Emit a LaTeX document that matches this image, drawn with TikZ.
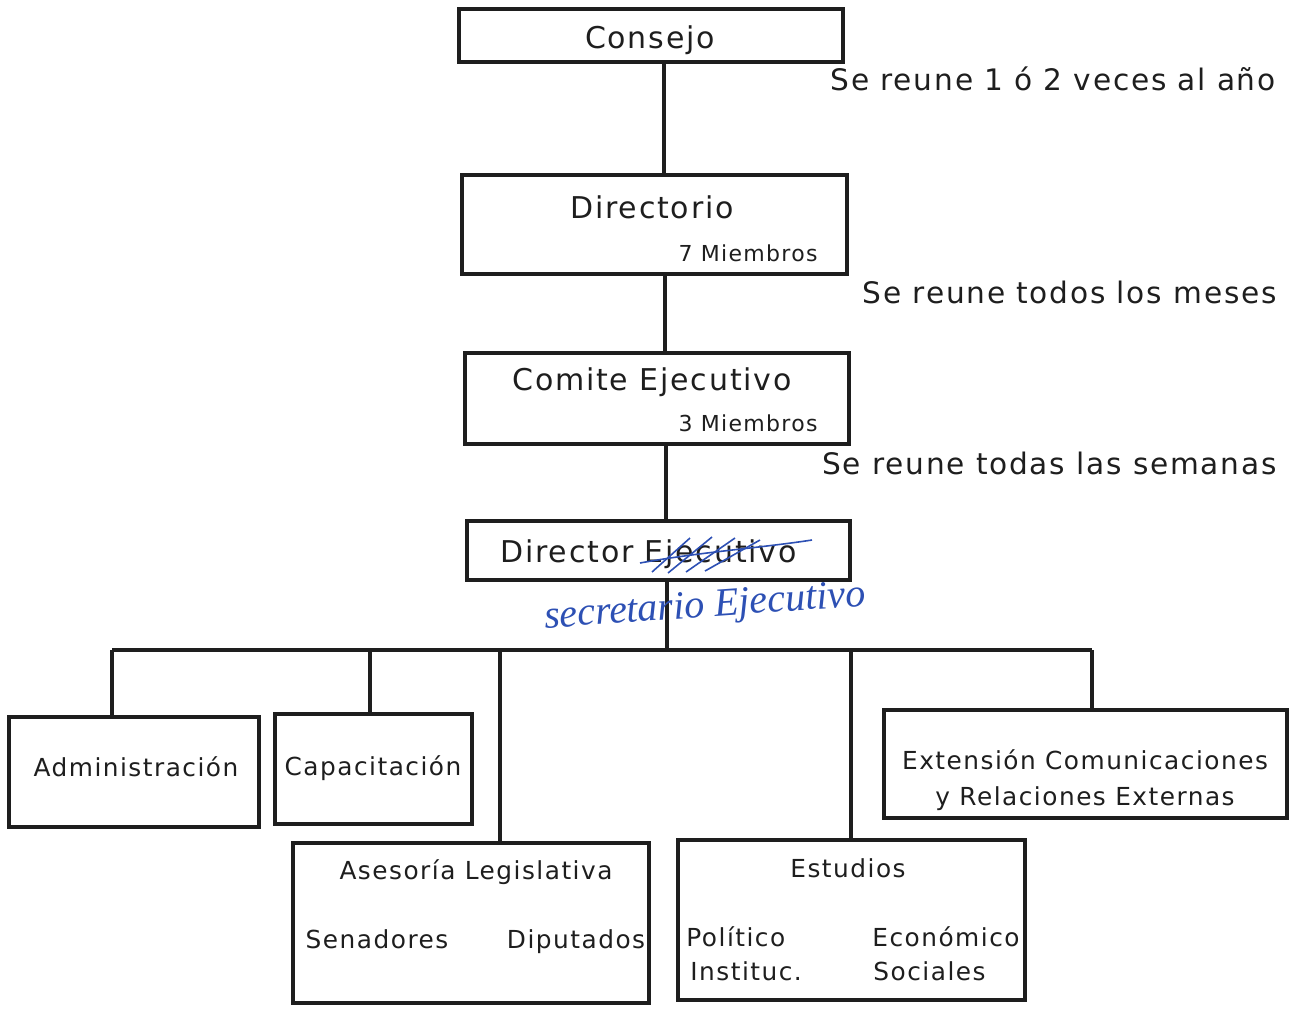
\documentclass[tikz,border=0pt]{standalone}
\usepackage{fontspec}
\setmainfont[LetterSpace=6]{DejaVu Sans}
\newfontfamily\handfont{Liberation Serif}
\definecolor{penblue}{RGB}{45,80,180}
\definecolor{ink}{RGB}{30,30,30}
\begin{document}
\begin{tikzpicture}[x=0.5pt,y=-0.5pt,
  box/.style={draw=ink, line width=1.7pt, inner sep=0pt, outer sep=0pt},
  link/.style={draw=ink, line width=1.7pt},
  title/.style={font=\fontsize{15}{16}\selectfont, text=ink, inner sep=0pt, anchor=base},
  sub/.style={font=\fontsize{11}{13}\selectfont, text=ink, inner sep=0pt, anchor=base east},
  unit/.style={font=\fontsize{12.4}{18}\selectfont, text=ink, inner sep=0pt, anchor=base, align=center},
  note/.style={font=\fontsize{14.8}{16}\selectfont, text=ink, inner sep=0pt, anchor=base east},
  hand/.style={font=\handfont\itshape\fontsize{20}{22}\selectfont, text=penblue, inner sep=0pt},
  strike/.style={draw=penblue, line width=0.8pt}]
\useasboundingbox (0,0) rectangle (1289,1013);

% boxes
\node[box, minimum width=192pt,   minimum height=26.5pt] (consejo)    at (651,35.5)   {};
\node[box, minimum width=192.5pt, minimum height=49.5pt] (directorio) at (654.5,224.5) {};
\node[box, minimum width=192pt,   minimum height=45.5pt] (comite)     at (657,398.5)  {};
\node[box, minimum width=191.5pt, minimum height=29.5pt] (director)   at (658.5,550.5) {};
\node[box, minimum width=125pt,   minimum height=55pt]   (admin)      at (134,772)    {};
\node[box, minimum width=98.5pt,  minimum height=55pt]   (capac)      at (373.5,769)  {};
\node[box, minimum width=201.5pt, minimum height=54pt]   (ext)        at (1085.5,764) {};
\node[box, minimum width=178pt,   minimum height=80pt]   (ases)       at (471,923)    {};
\node[box, minimum width=173.5pt, minimum height=80pt]   (estud)      at (851.5,920)  {};

% connector guides
\coordinate (t1) at (664,0);
\coordinate (t2) at (665,0);
\coordinate (t3) at (666,0);
\coordinate (t4) at (667,0);
\coordinate (bus) at (0,650);
\coordinate (da) at (112,0);
\coordinate (dc) at (370,0);
\coordinate (dl) at (500,0);
\coordinate (ds) at (851,0);
\coordinate (de) at (1092,0);

\draw[link] (consejo.south -| t1) -- (directorio.north -| t1);
\draw[link] (directorio.south -| t2) -- (comite.north -| t2);
\draw[link] (comite.south -| t3) -- (director.north -| t3);
\draw[link] (director.south -| t4) -- (bus -| t4);
\draw[link] (bus -| da) -- (bus -| de);
\draw[link] (bus -| da) -- (admin.north -| da);
\draw[link] (bus -| dc) -- (capac.north -| dc);
\draw[link] (bus -| dl) -- (ases.north -| dl);
\draw[link] (bus -| ds) -- (estud.north -| ds);
\draw[link] (bus -| de) -- (ext.north -| de);

% texts
\node[title] (consejoT) at (650,48) {Consejo};
\node[title] (directorioT) at (652,218) {Directorio};
\node[sub] (directorioM) at (818,261) {7 Miembros};
\node[title] (comiteT) at (652,390) {Comite Ejecutivo};
\node[sub] (comiteM) at (818,431) {3 Miembros};
\node[title, anchor=base west] (directorT) at (500,562) {Director Ejecutivo};

\node[note] (n1) at (1276,90) {Se reune 1 ó 2 veces al año};
\node[note] (n2) at (1277,303) {Se reune todos los meses};
\node[note] (n3) at (1277,474) {Se reune todas las semanas};

% handwritten correction
\node[hand, rotate=4] (secret) at (705,608) {secretario Ejecutivo};
\draw[strike] (652,572) -- (690,538);
\draw[strike] (668,573) -- (712,537);
\draw[strike] (686,572) -- (735,538);
\draw[strike] (705,571) -- (760,540);
\draw[strike] (640,563) .. controls (700,552) and (760,548) .. (812,540);

\node[unit] (adminT) at (136,776) {Administración};
\node[unit] (capacT) at (373,775) {Capacitación};
\node[unit, anchor=center] (extT) at (1085,780) {Extensión Comunicaciones\\y Relaciones Externas};
\node[unit] (asesT) at (476,879) {Asesoría Legislativa};
\node[unit] (senT) at (377,948) {Senadores};
\node[unit] (dipT) at (576,948) {Diputados};
\node[unit] (estT) at (848,877) {Estudios};
\node[unit, anchor=base west] (polT) at (686,946) {Político};
\node[unit, anchor=base west] (insT) at (690,980) {Instituc.};
\node[unit, anchor=base west] (ecoT) at (872,946) {Económico};
\node[unit, anchor=base west] (socT) at (873,980) {Sociales};
\end{tikzpicture}
\end{document}
